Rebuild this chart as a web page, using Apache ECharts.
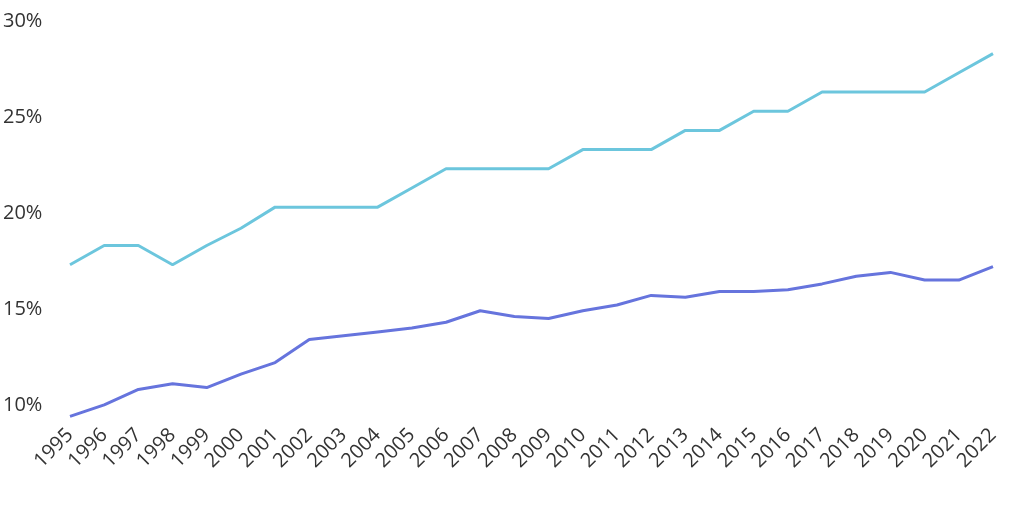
<!DOCTYPE html>
<html>
<head>
<meta charset="utf-8">
<script src="https://cdn.jsdelivr.net/npm/echarts@6/dist/echarts.min.js"></script>
<style>html,body{margin:0;padding:0;background:#fff}#c{width:1024px;height:512px}</style>
</head>
<body>
<div id="c"></div>
<script>
const years = ['1995','1996','1997','1998','1999','2000','2001','2002','2003','2004','2005','2006','2007','2008','2009','2010','2011','2012','2013','2014','2015','2016','2017','2018','2019','2020','2021','2022'];
const upperSeries = [17.3,18.3,18.3,17.3,18.3,19.2,20.3,20.3,20.3,20.3,21.3,22.3,22.3,22.3,22.3,23.3,23.3,23.3,24.3,24.3,25.3,25.3,26.3,26.3,26.3,26.3,27.3,28.3];
const lowerSeries = [9.4,10.0,10.8,11.1,10.9,11.6,12.2,13.4,13.6,13.8,14.0,14.3,14.9,14.6,14.5,14.9,15.2,15.7,15.6,15.9,15.9,16.0,16.3,16.7,16.9,16.5,16.5,17.2];
const yTicks = [10,15,20,25,30];

const chart = echarts.init(document.getElementById('c'));
const font = '"Open Sans", Roboto, sans-serif';
chart.setOption({
  animation: false,
  grid: {left: 69, right: 31, top: 21, bottom: 88, containLabel: false},
  xAxis: {
    type: 'category', data: years, boundaryGap: false,
    axisLine: {show: false}, axisTick: {show: false},
    axisLabel: {rotate: 45, interval: 0, margin: 8, color: '#333', fontSize: 20, fontFamily: font}
  },
  yAxis: {
    type: 'value', min: 9, max: 30, interval: 1,
    splitLine: {show: false}, axisLine: {show: false}, axisTick: {show: false},
    axisLabel: {
      align: 'left', margin: 67, color: '#333', fontSize: 20, fontFamily: font,
      formatter: v => yTicks.includes(v) ? v + '%' : ''
    }
  },
  series: [
    {type: 'line', data: upperSeries, symbol: 'none', lineStyle: {color: '#6cc6dd', width: 3}},
    {type: 'line', data: lowerSeries, symbol: 'none', lineStyle: {color: '#6674dd', width: 3}}
  ]
});
</script>
</body>
</html>
